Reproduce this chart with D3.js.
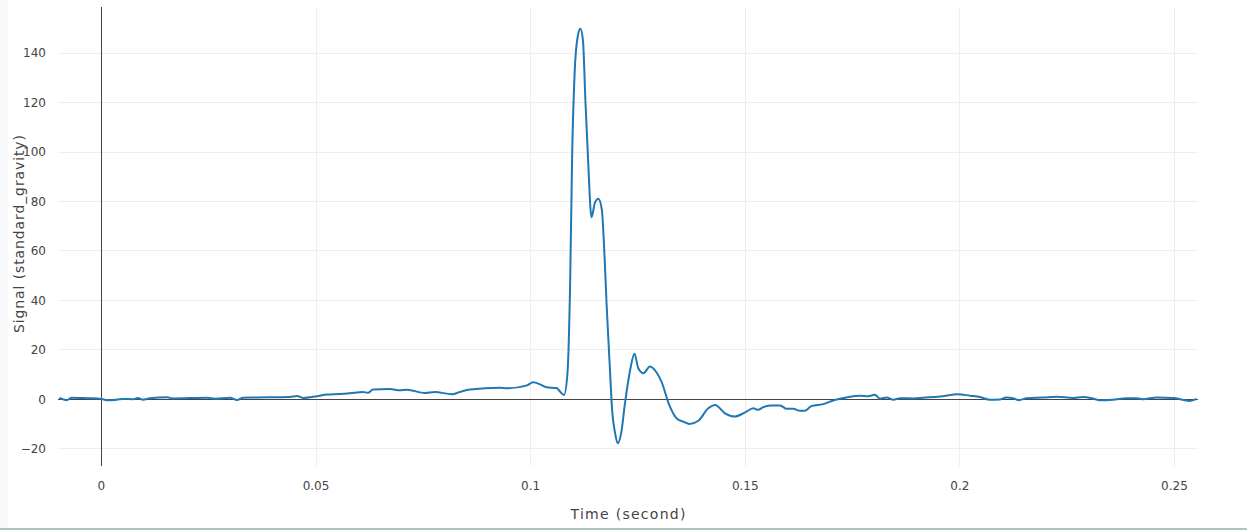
<!DOCTYPE html>
<html>
<head>
<meta charset="utf-8">
<script src="https://cdn.jsdelivr.net/npm/d3@7"></script>
<style>
  html, body { margin: 0; padding: 0; background: #fff; }
  svg { display: block; }
  text { font-family: "DejaVu Sans", Verdana, sans-serif; }
</style>
</head>
<body>
<svg id="chart" width="1247" height="530"></svg>
<script>
// ---- data ----
const timeSec = [
  -0.0097, -0.0080, -0.0068, -0.0033, 0.0002, 0.0013, 0.0037, 0.0051, 0.0075, 0.0086,
  0.0098, 0.0114, 0.0154, 0.0168, 0.0247, 0.0266, 0.0301, 0.0317, 0.0331, 0.0363,
  0.0440, 0.0457, 0.0471, 0.0503, 0.0527, 0.0557, 0.0580, 0.0610, 0.0622, 0.0634,
  0.0673, 0.0697, 0.0713, 0.0755, 0.0778, 0.0818, 0.0836, 0.0860, 0.0930, 0.0946,
  0.0993, 0.1007, 0.1023, 0.1038, 0.1062, 0.1069, 0.1079, 0.1087, 0.1093, 0.1098,
  0.1104, 0.1111, 0.1117, 0.1123, 0.1129, 0.1135, 0.1143, 0.1151, 0.1159, 0.1167,
  0.1173, 0.1178, 0.1186, 0.1191, 0.1198, 0.1204, 0.1212, 0.1221, 0.1233, 0.1243,
  0.1252, 0.1264, 0.1279, 0.1295, 0.1306, 0.1324, 0.1341, 0.1357, 0.1371, 0.1392,
  0.1415, 0.1431, 0.1454, 0.1477, 0.1500, 0.1520, 0.1531, 0.1543, 0.1559, 0.1582,
  0.1598, 0.1613, 0.1629, 0.1640, 0.1656, 0.1683, 0.1706, 0.1737, 0.1768, 0.1788,
  0.1803, 0.1815, 0.1831, 0.1846, 0.1862, 0.1893, 0.1916, 0.1955, 0.1997, 0.2025,
  0.2048, 0.2071, 0.2095, 0.2109, 0.2125, 0.2139, 0.2157, 0.2195, 0.2227, 0.2265,
  0.2288, 0.2311, 0.2327, 0.2358, 0.2390, 0.2413, 0.2428, 0.2460, 0.2499, 0.2520,
  0.2537, 0.2553
];
const signal = [
  0.4, -0.5, 0.5, 0.3, 0.0, -0.5, -0.3, 0.0, -0.1, 0.4,
  -0.3, 0.3, 0.7, 0.2, 0.5, 0.1, 0.5, -0.4, 0.5, 0.6,
  0.8, 1.2, 0.4, 1.1, 1.8, 2.0, 2.3, 2.8, 2.5, 3.8,
  4.0, 3.5, 3.7, 2.4, 2.8, 1.9, 2.8, 3.8, 4.5, 4.3,
  5.5, 6.7, 5.9, 4.7, 4.4, 3.1, 1.6, 10.5, 45, 99.5,
  133, 146.6, 149.6, 145, 119.6, 96.7, 73.4, 79.3, 80.9, 76.5,
  59, 38.7, 11.7, -4.5, -13.9, -17.9, -13.9, -1.7, 11.7, 18.3,
  12.4, 10.4, 13.1, 10.6, 7.0, -2.4, -7.8, -9.2, -10.1, -8.8,
  -3.8, -2.4, -5.8, -7.1, -5.5, -3.8, -4.4, -3.3, -2.6, -2.6,
  -4.0, -4.0, -4.8, -4.8, -2.8, -2.1, -0.6, 0.6, 1.3, 1.1,
  1.7, 0.1, 0.6, -0.3, 0.3, 0.2, 0.5, 1.0, 1.9, 1.3,
  0.8, -0.3, -0.2, 0.6, 0.3, -0.5, 0.3, 0.6, 0.9, 0.4,
  0.8, 0.2, -0.5, -0.3, 0.3, 0.3, -0.1, 0.6, 0.4, -0.3,
  -0.8, 0.0
];
const xTicks = [0, 0.05, 0.1, 0.15, 0.2, 0.25];
const xTickLabels = ["0", "0.05", "0.1", "0.15", "0.2", "0.25"];
const yTicks = [-20, 0, 20, 40, 60, 80, 100, 120, 140];
const xTitle = "Time (second)";
const yTitle = "Signal (standard_gravity)";

// ---- layout ----
const svg = d3.select("#chart");
const W = 1247, H = 530;
const plot = { left: 58, right: 1198, top: 7, bottom: 466 };

svg.append("rect").attr("x", 0).attr("y", 0).attr("width", W).attr("height", H).attr("fill", "#fff");
svg.append("rect").attr("x", 0).attr("y", 0).attr("width", 8).attr("height", H).attr("fill", "#f6f8fa");
svg.append("rect").attr("x", 0).attr("y", 528).attr("width", W).attr("height", 2).attr("fill", "#a9c9bf");

const x = d3.scaleLinear().domain([-0.01, 0.2556]).range([plot.left, plot.right]);
const y = d3.scaleLinear().domain([-27.1, 158.4]).range([plot.bottom, plot.top]);

// grid
const grid = svg.append("g");
grid.selectAll(".gx").data(xTicks.filter(d => d !== 0)).join("line")
  .attr("x1", d => Math.round(x(d)) + 0.5).attr("x2", d => Math.round(x(d)) + 0.5)
  .attr("y1", plot.top).attr("y2", plot.bottom)
  .attr("stroke", "#eeeeee").attr("stroke-width", 1);
grid.selectAll(".gy").data(yTicks.filter(d => d !== 0)).join("line")
  .attr("x1", plot.left).attr("x2", plot.right)
  .attr("y1", d => Math.round(y(d)) + 0.5).attr("y2", d => Math.round(y(d)) + 0.5)
  .attr("stroke", "#eeeeee").attr("stroke-width", 1);

// zero lines
svg.append("line")
  .attr("x1", Math.round(x(0)) + 0.5).attr("x2", Math.round(x(0)) + 0.5)
  .attr("y1", plot.top).attr("y2", plot.bottom)
  .attr("stroke", "#444").attr("stroke-width", 1);
svg.append("line")
  .attr("x1", plot.left).attr("x2", plot.right)
  .attr("y1", Math.round(y(0)) + 0.5).attr("y2", Math.round(y(0)) + 0.5)
  .attr("stroke", "#444").attr("stroke-width", 1);

// axes (tick labels only)
const xAxis = d3.axisBottom(x).tickValues(xTicks)
  .tickFormat((d, i) => xTickLabels[i]).tickSize(0).tickPadding(0);
const gx = svg.append("g").attr("transform", `translate(0,${plot.bottom})`).call(xAxis);
gx.select(".domain").remove();
gx.selectAll("text").attr("y", 24).attr("dy", null)
  .attr("font-family", "'DejaVu Sans', Verdana, sans-serif").attr("font-size", 12).attr("fill", "#444");

const yAxis = d3.axisLeft(y).tickValues(yTicks).tickFormat(d3.format("d")).tickSize(0).tickPadding(0);
const gy = svg.append("g").attr("transform", `translate(46,0)`).call(yAxis);
gy.select(".domain").remove();
gy.selectAll("text").attr("x", 0).attr("dy", "0.35em")
  .attr("font-family", "'DejaVu Sans', Verdana, sans-serif").attr("font-size", 12).attr("fill", "#444");

// titles
svg.append("text").attr("x", 628).attr("y", 519).attr("text-anchor", "middle")
  .attr("font-size", 14).attr("fill", "#444")
  .attr("textLength", 115).attr("lengthAdjust", "spacing").text(xTitle);
svg.append("text").attr("transform", "translate(24,234) rotate(-90)").attr("text-anchor", "middle")
  .attr("font-size", 14).attr("fill", "#444")
  .attr("textLength", 198).attr("lengthAdjust", "spacing").text(yTitle);

// line
const data = timeSec.map((t, i) => ({ t, v: signal[i] }));
const line = d3.line().x(d => x(d.t)).y(d => y(d.v)).curve(d3.curveMonotoneX);
svg.append("path").datum(data).attr("d", line)
  .attr("fill", "none").attr("stroke", "#1f77b4").attr("stroke-width", 2)
  .attr("stroke-linejoin", "round");
</script>
</body>
</html>
